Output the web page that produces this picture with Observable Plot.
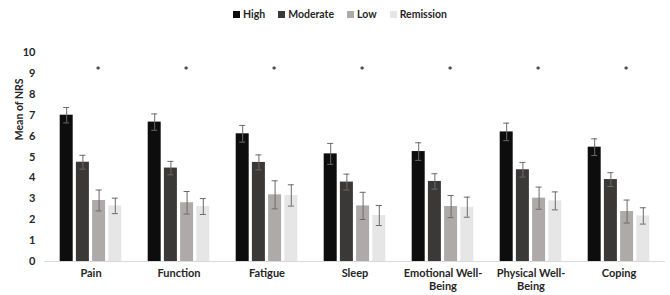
<!DOCTYPE html>
<html>
<head>
<meta charset="utf-8">
<script src="https://cdn.jsdelivr.net/npm/d3@7"></script>
<script src="https://cdn.jsdelivr.net/npm/@observablehq/plot@0.6"></script>
<style>
  html, body { margin: 0; padding: 0; background: #fff; }
  body { width: 670px; height: 295px; overflow: hidden; font-family: Lato, "Open Sans", sans-serif; }
  #legend { height: 28px; display: flex; justify-content: center; align-items: center; gap: 13px; font-weight: 700; font-size: 10.5px; color: #262626; padding-left: 10px; box-sizing: border-box; }
  #legend span.item { display: inline-flex; align-items: center; }
  #legend i { display: inline-block; width: 7px; height: 7px; margin-right: 3px; }
</style>
</head>
<body>
<div id="legend"></div>
<div id="chart"></div>
<script>
const categories = ["Pain", "Function", "Fatigue", "Sleep", "Emotional Well-Being", "Physical Well-Being", "Coping"];
const levels = ["High", "Moderate", "Low", "Remission"];
const high      = [7.00, 6.67, 6.11, 5.15, 5.26, 6.20, 5.47];
const highErr   = [0.37, 0.39, 0.40, 0.50, 0.42, 0.42, 0.40];
const moderate  = [4.75, 4.47, 4.74, 3.80, 3.83, 4.39, 3.92];
const moderateErr = [0.33, 0.32, 0.36, 0.38, 0.37, 0.35, 0.33];
const low       = [2.92, 2.81, 3.19, 2.66, 2.63, 3.03, 2.39];
const lowErr    = [0.50, 0.54, 0.67, 0.65, 0.53, 0.53, 0.55];
const remission = [2.66, 2.63, 3.16, 2.20, 2.60, 2.90, 2.18];
const remissionErr = [0.37, 0.38, 0.51, 0.48, 0.48, 0.43, 0.39];
const significant = ["*", "*", "*", "*", "*", "*", "*"];
const starLevel = 9.25;
const yTicks = [0, 1, 2, 3, 4, 5, 6, 7, 8, 9, 10];

const colors = ["#0d0d0d", "#3b3838", "#aeaaaa", "#e7e6e6"];
const series = [high, moderate, low, remission];
const errs = [highErr, moderateErr, lowErr, remissionErr];

// legend
const legend = document.getElementById("legend");
levels.forEach((l, i) => {
  const s = document.createElement("span");
  s.className = "item";
  s.innerHTML = `<i style="background:${colors[i]}"></i>${l}`;
  legend.appendChild(s);
});

const step = 16.2;
const marks = [];
marks.push(Plot.ruleY([0], {stroke: "#d9d9d9", strokeWidth: 1}));
series.forEach((vals, i) => {
  const data = categories.map((c, j) => ({cat: c, v: vals[j], e: errs[i][j]}));
  const dx = (i - 1.5) * step;
  marks.push(Plot.barY(data, {x: "cat", y: "v", fill: colors[i], dx}));
  marks.push(Plot.ruleX(data, {x: "cat", y1: d => d.v - d.e, y2: d => d.v + d.e, stroke: "#6b6b6b", strokeWidth: 1, dx}));
  marks.push(Plot.tickY(data, {x: "cat", y: d => d.v - d.e, stroke: "#6b6b6b", strokeWidth: 1, dx, insetLeft: 3.5, insetRight: 3.5}));
  marks.push(Plot.tickY(data, {x: "cat", y: d => d.v + d.e, stroke: "#6b6b6b", strokeWidth: 1, dx, insetLeft: 3.5, insetRight: 3.5}));
});
marks.push(Plot.text(categories.map((c, j) => ({cat: c, s: significant[j]})), {
  x: "cat", y: () => starLevel, text: "s", dx: 7, dy: 3, fontSize: 12, fill: "#262626", fontWeight: 700
}));
marks.push(Plot.text([{t: "Mean of NRS"}], {
  frameAnchor: "left", y: () => 5.8, text: "t", rotate: -90, dx: -25,
  fontSize: 10.5, fontWeight: 700, fill: "#262626"
}));
marks.push(Plot.axisY({ticks: yTicks, tickSize: 0, tickPadding: 9, label: null, fontSize: 11, fontWeight: 700, fill: "#262626"}));
marks.push(Plot.axisX({tickSize: 0, tickPadding: 6, label: null, fontSize: 11, fontWeight: 700, fill: "#262626",
  lineHeight: 1.2, tickFormat: d => d.replace("Well-Being", "Well-\nBeing")}));

const chart = Plot.plot({
  width: 670,
  height: 267,
  marginLeft: 44,
  marginRight: 5,
  marginTop: 24,
  marginBottom: 34,
  style: {fontFamily: "Lato, 'Open Sans', sans-serif", background: "#fff"},
  x: {domain: categories, paddingInner: 0.853, paddingOuter: 0.4267},
  y: {domain: [0, 10]},
  marks
});
document.getElementById("chart").appendChild(chart);
</script>
</body>
</html>
